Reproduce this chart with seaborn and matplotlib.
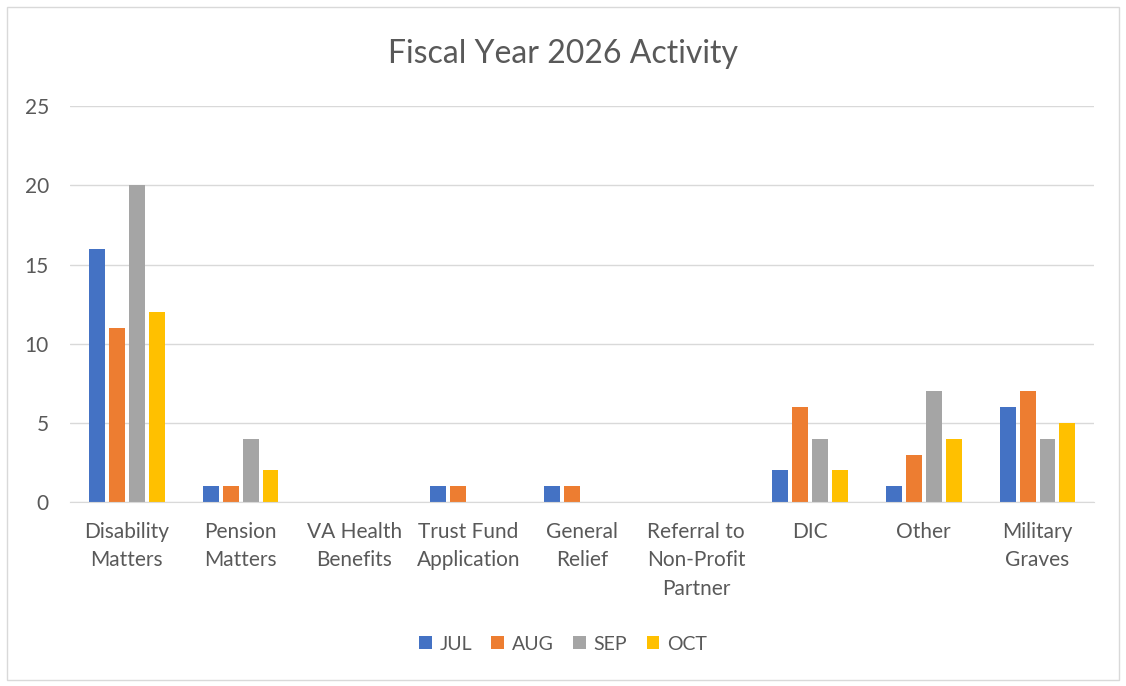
import numpy as np
import pandas as pd
import seaborn as sns
import matplotlib.pyplot as plt
from matplotlib.patches import Rectangle

categories = ["Disability\nMatters", "Pension\nMatters", "VA Health\nBenefits",
              "Trust Fund\nApplication", "General\nRelief", "Referral to\nNon-Profit\nPartner",
              "DIC", "Other", "Military\nGraves"]
months = ["JUL", "AUG", "SEP", "OCT"]
jul = [16, 1, 0, 1, 1, 0, 2, 1, 6]
aug = [11, 1, 0, 1, 1, 0, 6, 3, 7]
sep = [20, 4, 0, 0, 0, 0, 4, 7, 4]
oct_ = [12, 2, 0, 0, 0, 0, 2, 4, 5]
colors = ["#4472C4", "#ED7D31", "#A5A5A5", "#FFC000"]

rows = []
for m, vals in zip(months, [jul, aug, sep, oct_]):
    for c, v in zip(categories, vals):
        rows.append({"category": c, "month": m, "value": v})
df = pd.DataFrame(rows)

sns.set_style("white")
plt.rcParams['font.family'] = ['Lato', 'DejaVu Sans']

fig = plt.figure(figsize=(11.26, 6.86), dpi=100)
ax = fig.add_axes([0.062, 0.268, 0.91, 0.577])

sns.barplot(data=df, x="category", y="value", hue="month", palette=colors,
            saturation=1, width=0.7, gap=0.2, linewidth=0, ax=ax, legend=True)

ax.set_ylim(0, 25)
ax.set_yticks(np.arange(0, 26, 5))
ax.yaxis.grid(True, color="#D9D9D9", linewidth=1)
ax.set_axisbelow(True)
for s in ["top", "right", "left"]:
    ax.spines[s].set_visible(False)
ax.spines["bottom"].set_color("#D9D9D9")
ax.tick_params(axis="both", length=0, labelsize=15, colors="#595959")
ax.tick_params(axis="x", pad=14)
ax.tick_params(axis="y", pad=15)
ax.set_xlabel("")
ax.set_ylabel("")
for lbl in ax.get_xticklabels():
    lbl.set_verticalalignment("top")
    lbl.set_linespacing(1.55)

fig.text(0.5, 0.922, "Fiscal Year 2026 Activity", ha="center", va="center",
         fontsize=23, color="#595959")

handles, labels = ax.get_legend_handles_labels()
ax.legend_.remove()
fig.legend(handles, labels, loc="center", bbox_to_anchor=(0.5, 0.061), ncol=4,
           frameon=False, fontsize=14, handlelength=0.65, handleheight=0.65,
           handletextpad=0.4, columnspacing=1.0, labelcolor="#595959")

fig.patches.append(Rectangle((0.006, 0.009), 0.988, 0.981, transform=fig.transFigure,
                             fill=False, edgecolor="#D9D9D9", linewidth=1))

fig.savefig("out.png", dpi=100)
